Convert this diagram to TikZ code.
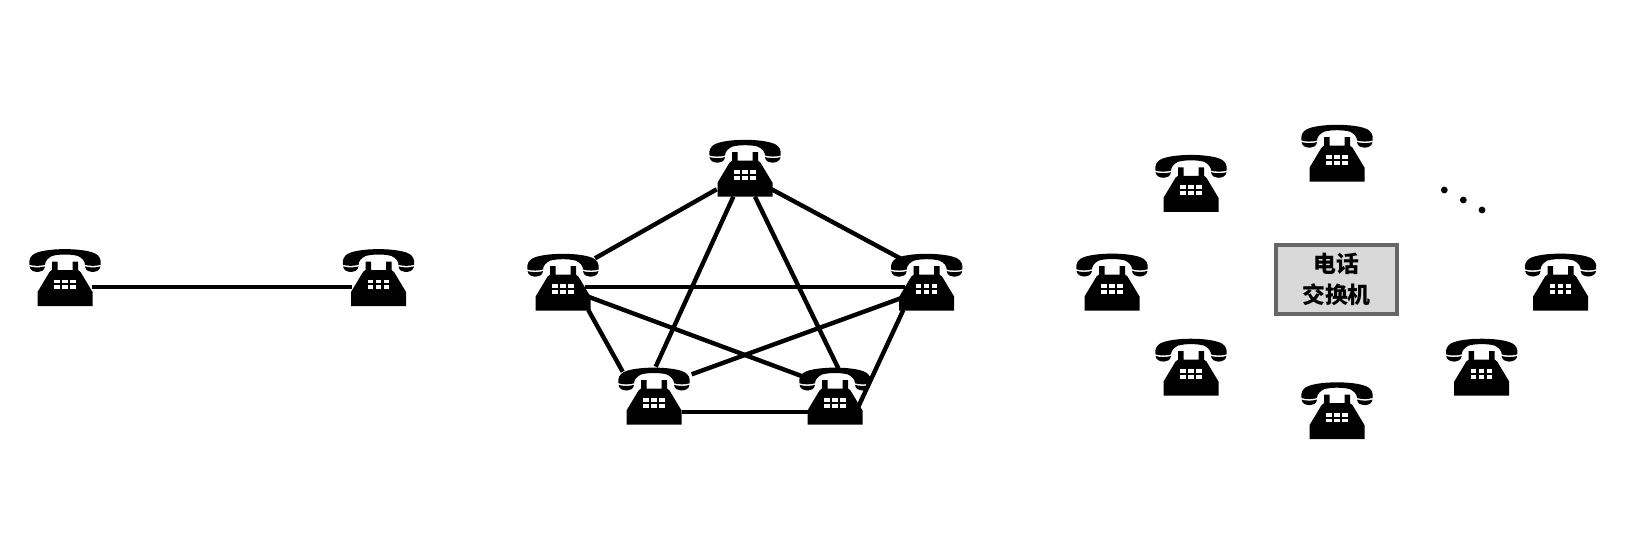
\documentclass[tikz,border=0pt]{standalone}
\usepackage{fontspec}
\usepackage{xcolor}
\usepackage{tikz}
\newfontfamily\cjkfont{Noto Sans CJK SC}
\definecolor{boxfill}{HTML}{D9D9D9}
\definecolor{boxedge}{HTML}{666666}
\tikzset{
  link/.style={line width=2.5pt},
  phonebox/.style={inner sep=0pt, minimum width=1.44cm, minimum height=1.16cm},
  switchbox/.style={draw=boxedge, line width=2.2pt, fill=boxfill, inner sep=0pt,
    minimum width=2.43cm, minimum height=1.37cm, align=center,
    font=\cjkfont\bfseries\fontsize{13}{17.4}\selectfont},
  phone/.pic={
    % handset
    \fill (-35.5,-12.2) .. controls (-36.5,-18) and (-34,-21) .. (-31,-23)
      .. controls (-20,-29.5) and (20,-29.5) .. (31,-23)
      .. controls (34,-21) and (36.5,-18) .. (35.5,-12.2)
      .. controls (31,-10.8) and (25,-10.8) .. (20,-12.2)
      .. controls (20,-16) and (17,-19) .. (13,-21)
      .. controls (6,-23) and (-6,-23) .. (-13,-21)
      .. controls (-17,-19) and (-20,-16) .. (-20,-12.2)
      .. controls (-25,-10.8) and (-31,-10.8) .. (-35.5,-12.2) -- cycle;
    \fill (-35.5,-10.6) .. controls (-31,-9.2) and (-25,-9.2) .. (-20,-10.6)
      .. controls (-20.5,-6.5) and (-24,-5) .. (-27,-5)
      .. controls (-31,-5) and (-35,-6.5) .. (-35.5,-10.6) -- cycle;
    \fill (35.5,-10.6) .. controls (31,-9.2) and (25,-9.2) .. (20,-10.6)
      .. controls (20.5,-6.5) and (24,-5) .. (27,-5)
      .. controls (31,-5) and (35,-6.5) .. (35.5,-10.6) -- cycle;
    % body
    \fill (-13,-15.5) -- (-7.5,-15.5) -- (-7.5,-7) -- (7.5,-7) -- (7.5,-15.5) -- (13,-15.5)
      -- (13,-7) -- (15.5,-5) -- (27.5,15) -- (27.5,29) -- (-27.5,29) -- (-27.5,15) -- (-15.5,-5) -- (-13,-7) -- cycle;
    % keys
    \foreach \keyx in {-8,0,8}
      \foreach \keyy in {4.5,10.3}
        \fill[white] (\keyx-2.6,\keyy-1.9) rectangle (\keyx+2.6,\keyy+1.9);
  }
}
\newcommand{\phoneat}[3]{
  \node[phonebox] (#1) at (#2,#3) {};
  \pic at (#1) {phone};
}
\begin{document}
\begin{tikzpicture}[x=0.02cm, y=-0.02cm]
  \useasboundingbox (0,0) rectangle (1628,547);
  % two phones
  \phoneat{pa}{65}{277}
  \phoneat{pb}{378.5}{277}
  \draw[link] ([shift={(27,10.3)}]pa.center) -- ([shift={(-27,10.3)}]pb.center);
  % five phones
  \phoneat{ptop}{745}{167.7}
  \phoneat{pleft}{563}{281.7}
  \phoneat{pright}{926.7}{281.7}
  \phoneat{plow}{654}{395.5}
  \phoneat{pend}{835}{395.5}
  \draw[link] ([shift={(-28.3,21.6)}]ptop.center) -- ([shift={(32,-23.4)}]pleft.center);
  \draw[link] ([shift={(26.7,21.6)}]ptop.center) -- ([shift={(-23.4,-21.7)}]pright.center);
  \draw[link] ([shift={(-11.7,29)}]ptop.center) -- ([shift={(1.7,-28.8)}]plow.center);
  \draw[link] ([shift={(10,29)}]ptop.center) -- ([shift={(3.3,-27.2)}]pend.center);
  \draw[link] ([shift={(22,5.3)}]pleft.center) -- ([shift={(-21.7,5.3)}]pright.center);
  \draw[link] ([shift={(25.3,15)}]pleft.center) -- ([shift={(-31.7,-18.8)}]pend.center);
  \draw[link] ([shift={(25.3,28.3)}]pleft.center) -- ([shift={(-31.3,-23.8)}]plow.center);
  \draw[link] ([shift={(-26,16.6)}]pright.center) -- ([shift={(37.7,-21.2)}]plow.center);
  \draw[link] ([shift={(-23.4,28.3)}]pright.center) -- ([shift={(23.3,11.2)}]pend.center);
  \draw[link] ([shift={(27.7,16.5)}]plow.center) -- ([shift={(-26.7,16.5)}]pend.center);
  % exchange
  \phoneat{sa}{1337}{152.7}
  \phoneat{sb}{1191}{182.8}
  \phoneat{sc}{1112}{281.5}
  \phoneat{sd}{1191}{366.6}
  \phoneat{se}{1337}{410.2}
  \phoneat{sf}{1481.7}{366.6}
  \phoneat{sg}{1560.6}{281.5}
  \node[switchbox] (sw) at (1336.5,279.5) {电话\\交换机};
  \foreach \dotx/\doty in {1444.3/190, 1463.3/200, 1482/210}
    \fill (\dotx,\doty) circle (3.4);
\end{tikzpicture}
\end{document}
